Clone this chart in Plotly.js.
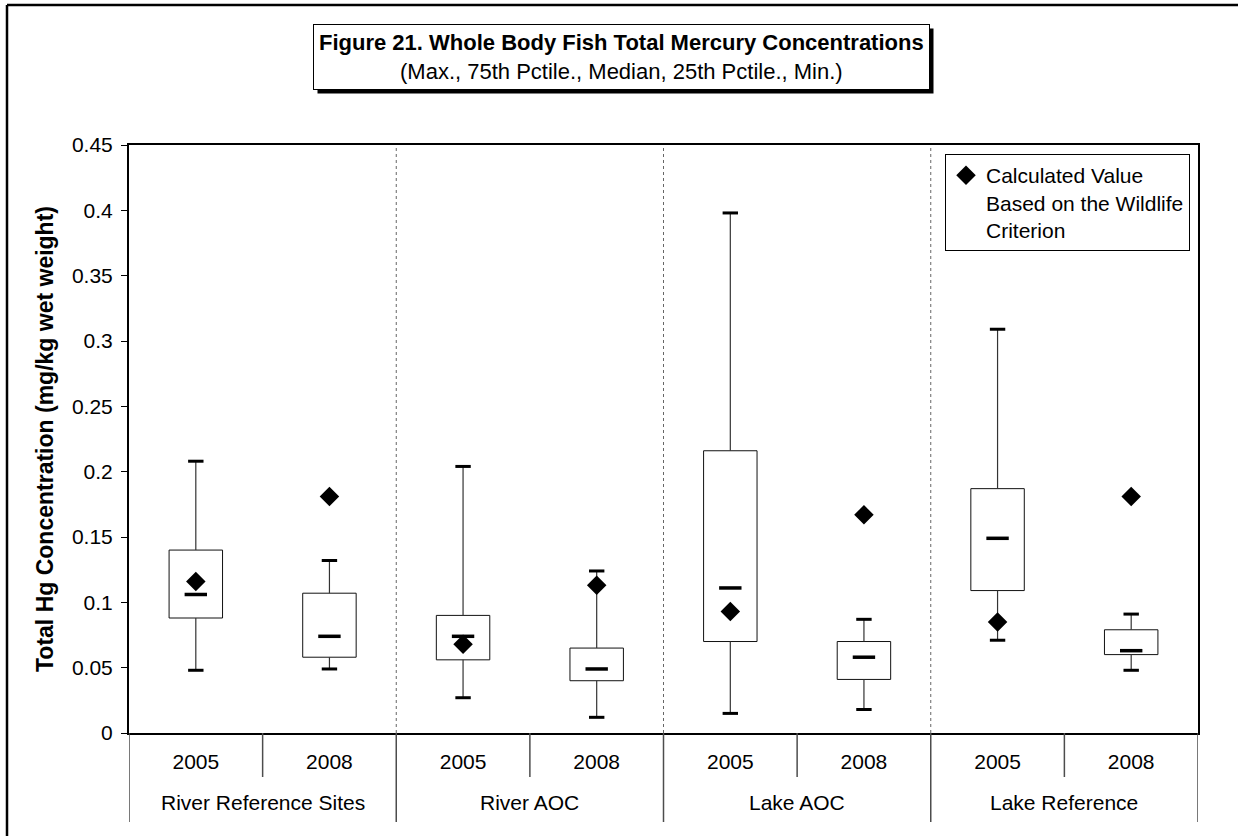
<!DOCTYPE html>
<html>
<head>
<meta charset="utf-8">
<script src="https://cdn.plot.ly/plotly-3.0.1.min.js"></script>
<style>
  html, body { margin: 0; padding: 0; background: #ffffff; }
  #chart { width: 1238px; height: 836px; }
</style>
</head>
<body>
<div id="chart"></div>
<script>
// Site groups and sampling years (two years per group)
const groups = ['River Reference Sites', 'River AOC', 'Lake AOC', 'Lake Reference'];
const years = ['2005', '2008'];

// Whole body fish total Hg (mg/kg wet weight), one value per group/year
const maxVals       = [0.208, 0.132, 0.204, 0.124, 0.398, 0.087, 0.309, 0.091];
const q3Vals        = [0.140, 0.107, 0.090, 0.065, 0.216, 0.070, 0.187, 0.079];
const medianVals    = [0.106, 0.074, 0.074, 0.049, 0.111, 0.058, 0.149, 0.063];
const q1Vals        = [0.088, 0.058, 0.056, 0.040, 0.070, 0.041, 0.109, 0.060];
const minVals       = [0.048, 0.049, 0.027, 0.012, 0.015, 0.018, 0.071, 0.048];
// Calculated value based on the wildlife criterion
const criterionVals = [0.116, 0.181, 0.068, 0.113, 0.093, 0.167, 0.085, 0.181];

const FONT = 'Arial, "Liberation Sans", Helvetica, sans-serif';
const FS = 21;

// category positions along the x axis
const xPos = [];
const tickText = [];
groups.forEach((g, gi) => years.forEach((y, yi) => {
  xPos.push(gi * years.length + yi);
  tickText.push(y);
}));

// whisker segments: max -> Q3, gap, Q1 -> min
const wx = [], wy = [];
xPos.forEach((x, i) => {
  wx.push(x, x, null, x, x, null);
  wy.push(maxVals[i], q3Vals[i], null, q1Vals[i], minVals[i], null);
});

const traces = [
  { // interquartile boxes
    type: 'bar', x: xPos, base: q1Vals,
    y: q3Vals.map((v, i) => v - q1Vals[i]),
    width: 0.4,
    marker: { color: '#ffffff', line: { color: '#111111', width: 1 } },
    showlegend: false, hoverinfo: 'skip'
  },
  { // whiskers
    type: 'scatter', mode: 'lines', x: wx, y: wy,
    line: { color: '#333333', width: 1.2 },
    showlegend: false, hoverinfo: 'skip', connectgaps: false
  },
  { // whisker caps (max)
    type: 'scatter', mode: 'markers', x: xPos, y: maxVals,
    marker: { symbol: 'line-ew', size: 11, line: { color: '#000000', width: 3 } },
    showlegend: false, hoverinfo: 'skip'
  },
  { // whisker caps (min)
    type: 'scatter', mode: 'markers', x: xPos, y: minVals,
    marker: { symbol: 'line-ew', size: 11, line: { color: '#000000', width: 3 } },
    showlegend: false, hoverinfo: 'skip'
  },
  { // medians
    type: 'scatter', mode: 'markers', x: xPos, y: medianVals,
    marker: { symbol: 'line-ew', size: 16, line: { color: '#000000', width: 3.5 } },
    showlegend: false, hoverinfo: 'skip'
  },
  { // wildlife criterion values
    type: 'scatter', mode: 'markers', x: xPos, y: criterionVals,
    name: 'Calculated Value<br>Based on the Wildlife<br>Criterion',
    marker: { symbol: 'diamond', size: 15, color: '#000000' },
    showlegend: true, hoverinfo: 'y'
  }
];

// plot frame in pixels: left 129, right 1198, top 145, bottom 733
const PL = 129, PR = 1198, PT = 145, PB = 733;
const px2paperX = px => (px - PL) / (PR - PL);
const px2paperY = py => (PB - py) / (PB - PT);

const shapes = [];
// dotted group separators inside the plot
for (let g = 1; g < groups.length; g++) {
  const xb = g * years.length - 0.5;
  shapes.push({ type: 'line', xref: 'x', yref: 'paper', x0: xb, x1: xb, y0: 0, y1: 1,
    line: { color: '#666666', width: 1, dash: 'dot' } });
}
// dividers under the axis: short between years, long between groups
for (let k = 0; k <= xPos.length; k++) {
  const xb = k - 0.5;
  const isGroup = (k % years.length) === 0;
  shapes.push({ type: 'line', xref: 'x', yref: 'paper', x0: xb, x1: xb,
    y0: 0, y1: isGroup ? px2paperY(822) : px2paperY(777),
    line: { color: '#4d4d4d', width: 1.5 } });
}
// outer frame (top and left edges)
shapes.push({ type: 'line', xref: 'paper', yref: 'paper',
  x0: px2paperX(7), x1: px2paperX(1240), y0: px2paperY(5), y1: px2paperY(5),
  line: { color: '#000000', width: 2.5 } });
shapes.push({ type: 'line', xref: 'paper', yref: 'paper',
  x0: px2paperX(7), x1: px2paperX(7), y0: px2paperY(5), y1: px2paperY(840),
  line: { color: '#000000', width: 2.5 } });

const titleText = '<b>Figure 21. Whole Body Fish Total Mercury Concentrations</b><br>' +
  '(Max., 75th Pctile., Median, 25th Pctile., Min.)';

const annotations = [];
// boxed figure title
annotations.push({
  xref: 'paper', yref: 'paper', x: px2paperX(621), y: px2paperY(57),
  xanchor: 'center', yanchor: 'middle',
  text: titleText, showarrow: false, align: 'center',
  font: { family: FONT, size: 22, color: '#000000' },
  bgcolor: '#ffffff', bordercolor: '#000000', borderwidth: 1, borderpad: 5
});
// group labels under the year labels
groups.forEach((g, gi) => {
  annotations.push({
    xref: 'x', yref: 'paper', x: gi * years.length + (years.length - 1) / 2,
    y: px2paperY(802), yanchor: 'middle', text: g, showarrow: false,
    font: { family: FONT, size: FS, color: '#000000' }
  });
});

const layout = {
  width: 1238, height: 836,
  margin: { l: PL, r: 1238 - PR, t: PT, b: 836 - PB },
  paper_bgcolor: '#ffffff', plot_bgcolor: '#ffffff',
  font: { family: FONT, size: FS, color: '#000000' },
  showlegend: true,
  legend: {
    x: px2paperX(1190), y: px2paperY(154), xanchor: 'right', yanchor: 'top',
    bgcolor: '#ffffff', bordercolor: '#000000', borderwidth: 1,
    font: { family: FONT, size: FS, color: '#000000' }, valign: 'top',
    tracegroupgap: 0
  },
  xaxis: {
    range: [-0.5, xPos.length - 0.5], tickmode: 'array', tickvals: xPos, ticktext: tickText,
    ticks: '', showgrid: false, zeroline: false,
    showline: true, linecolor: '#000000', linewidth: 2, mirror: true,
    ticklabelstandoff: 9,
    tickfont: { family: FONT, size: FS, color: '#000000' }
  },
  yaxis: {
    range: [0, 0.45], dtick: 0.05, tick0: 0,
    ticks: 'outside', ticklen: 6, tickcolor: '#000000', tickwidth: 1,
    showgrid: false, zeroline: false,
    showline: true, linecolor: '#000000', linewidth: 2, mirror: true,
    ticklabelstandoff: 4,
    tickfont: { family: FONT, size: FS, color: '#000000' },
    title: { text: '<b>Total Hg Concentration (mg/kg wet weight)</b>', standoff: 12,
      font: { family: FONT, size: 23, color: '#000000' } }
  },
  shapes: shapes,
  annotations: annotations
};

Plotly.newPlot('chart', traces, layout, { displayModeBar: false, responsive: false })
  .then(gd => {
    // drop shadow behind the title box, sized from the drawn box
    const bg = gd.querySelector('.annotation[data-index="0"] rect.bg');
    if (!bg) return;
    const host = gd.getBoundingClientRect();
    const r = bg.getBoundingClientRect();
    const off = 4;
    const shadow = {
      type: 'rect', xref: 'paper', yref: 'paper', layer: 'above',
      x0: px2paperX(r.left - host.left + off), x1: px2paperX(r.right - host.left + off),
      y0: px2paperY(r.bottom - host.top + off), y1: px2paperY(r.top - host.top + off),
      fillcolor: '#000000', line: { width: 0 }
    };
    return Plotly.relayout(gd, { shapes: shapes.concat([shadow]) });
  });
</script>
</body>
</html>
